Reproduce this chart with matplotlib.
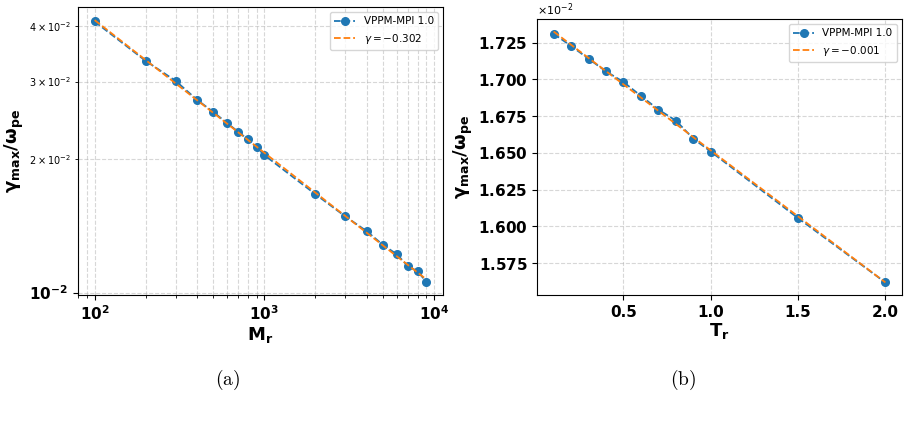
import numpy as np
import matplotlib
matplotlib.use("Agg")
import matplotlib.pyplot as plt

# (a) growth rate vs mass ratio
mass_ratio = [100, 200, 300, 400, 500, 600, 700, 800, 900, 1000,
              2000, 3000, 4000, 5000, 6000, 7000, 8000, 9000]
gamma_m = [0.04100, 0.03340, 0.03010, 0.02730, 0.02560, 0.02420, 0.02310, 0.02220, 0.02130,
           0.02045, 0.01668, 0.01486, 0.01377, 0.01281, 0.01222, 0.01148, 0.01116, 0.01057]
slope_m = -0.302

# (b) growth rate vs temperature ratio
temp_ratio = [0.1, 0.2, 0.3, 0.4, 0.5, 0.6, 0.7, 0.8, 0.9, 1.0, 1.5, 2.0]
gamma_t = [0.017311, 0.017228, 0.017141, 0.017055, 0.016983, 0.016888,
           0.016795, 0.016720, 0.016597, 0.016509, 0.016056, 0.015618]
slope_t = -0.001

blue = '#1f77b4'
orange = '#ff7f0e'
ylab = r'$\mathbf{\gamma_{max}/\omega_{pe}}$'

fig = plt.figure(figsize=(9.1, 4.33), dpi=100)
ax1 = fig.add_axes([78/910, 1 - 295/433, 365/910, 288/433])
ax2 = fig.add_axes([537/910, 1 - 295/433, 365/910, 276/433])

# left: log-log with power-law fit
xm = np.array(mass_ratio, dtype=float)
ym = np.array(gamma_m)
p = np.polyfit(np.log10(xm), np.log10(ym), 1)
ax1.loglog(xm, ym, 'o--', color=blue, ms=5.5, lw=1.3, label='VPPM-MPI 1.0')
ax1.loglog(xm, 10**np.polyval(p, np.log10(xm)), '--', color=orange, lw=1.3,
           label=r'$\gamma = %.3f$' % slope_m)
ax1.grid(True, which='both', ls='--', alpha=0.5)
ax1.set_xlabel(r'$\mathbf{M_r}$', fontsize=13, labelpad=1)
ax1.set_ylabel(ylab, fontsize=13, labelpad=2)
ax1.legend(loc='upper right', fontsize=7.5)
ax1.tick_params(axis='both', which='major', labelsize=11)
ax1.tick_params(axis='y', which='minor', labelsize=7)

# right: linear with linear fit
xt = np.array(temp_ratio)
yt = np.array(gamma_t)
q = np.polyfit(xt, yt, 1)
ax2.plot(xt, yt, 'o--', color=blue, ms=5.5, lw=1.3, label='VPPM-MPI 1.0')
ax2.plot(xt, np.polyval(q, xt), '--', color=orange, lw=1.3,
         label=r'$\gamma = %.3f$' % slope_t)
ax2.grid(True, ls='--', alpha=0.5)
ax2.ticklabel_format(axis='y', style='sci', scilimits=(-2, -2), useMathText=True)
ax2.set_xticks([0.5, 1.0, 1.5, 2.0])
ax2.set_xlabel(r'$\mathbf{T_r}$', fontsize=13, labelpad=1)
ax2.set_ylabel(ylab, fontsize=13, labelpad=2)
ax2.legend(loc='upper right', fontsize=7.5)
ax2.tick_params(axis='both', labelsize=11)
ax2.yaxis.get_offset_text().set_fontsize(8)

for ax in (ax1, ax2):
    for lab in ax.get_xticklabels(which='major') + ax.get_yticklabels(which='major'):
        lab.set_fontweight('bold')

fig.text(228/910, 1 - 380/433, r'$\mathrm{(a)}$', math_fontfamily='cm',
         fontsize=14, ha='center', va='center')
fig.text(683/910, 1 - 380/433, r'$\mathrm{(b)}$', math_fontfamily='cm',
         fontsize=14, ha='center', va='center')

fig.savefig('out.png', dpi=100)
